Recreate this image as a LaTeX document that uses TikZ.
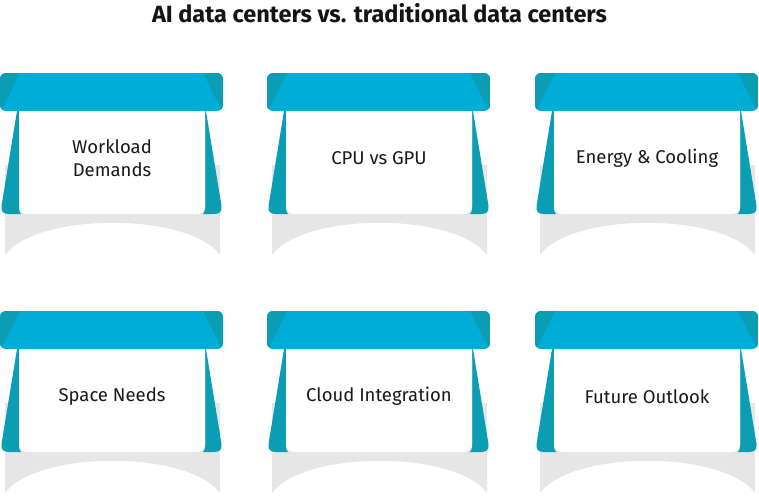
\documentclass[tikz,border=0pt]{standalone}
\usepackage{fontspec}
\setmainfont{Fira Sans}
\begin{document}
\begin{tikzpicture}[x=1pt,y=-1pt,
  barcol/.style={fill={rgb,255:red,0;green,173;blue,214}},
  flapcol/.style={fill={rgb,255:red,10;green,157;blue,180}},
  basecol/.style={fill={rgb,255:red,230;green,230;blue,230}},
  label/.style={font=\fontsize{18.5}{23}\selectfont, align=center, text=black!90},
  ttl/.style={font=\bfseries\fontsize{23.5}{28}\selectfont, text=black!92}]
\useasboundingbox (0,0) rectangle (759,495);

% one card: #1 = name, #2,#3 = top-left corner, #4 = label
\newcommand{\infocard}[4]{%
  \begin{scope}[shift={(#2,#3)}]
    % grey base with a concave lower edge
    \path[basecol] (5,92) -- (220,92) -- (220,182)
      .. controls (188,139) and (37,139) .. (5,182) -- cycle;
    % side flaps behind the white panel
    \path[flapcol] (17,38) -- (206,38) -- (221.5,133)
      .. controls (222.5,139) and (219,141) .. (214,141) -- (9,141)
      .. controls (4,141) and (0.5,139) .. (1.5,133) -- cycle;
    % soft shadow below the panel
    \path[fill=black!10, rounded corners=8] (19,40) rectangle (205,143.5);
    % white panel
    \path[fill=white] (19,30) -- (205,30) -- (205,133)
      arc[start angle=0,end angle=90,radius=8,y=-1pt] -- (27,141)
      arc[start angle=90,end angle=180,radius=8,y=-1pt] -- cycle;
    % top band with darker corner wedges
    \begin{scope}
      \clip[rounded corners=6] (0,38) -- (0,0) -- (223,0) -- (223,38) -- cycle;
      \path[barcol] (0,0) rectangle (223,38);
      \path[flapcol] (0,0) -- (20,0) -- (1,38) -- (0,38) -- cycle;
      \path[flapcol] (223,0) -- (203,0) -- (222,38) -- (223,38) -- cycle;
    \end{scope}
    \node[label] (#1) at (112,85.5) {#4};
  \end{scope}}

\node[ttl] (title) at (379.5,13) {AI data centers vs. traditional data centers};

\infocard{workload}{0}{73}{Workload\\Demands}
\infocard{cpugpu}{267}{73}{CPU vs GPU}
\infocard{energy}{535}{73}{Energy \& Cooling}
\infocard{space}{0}{311}{Space Needs}
\infocard{cloud}{267}{311}{Cloud Integration}
\infocard{future}{535}{311}{Future Outlook}
\end{tikzpicture}
\end{document}
